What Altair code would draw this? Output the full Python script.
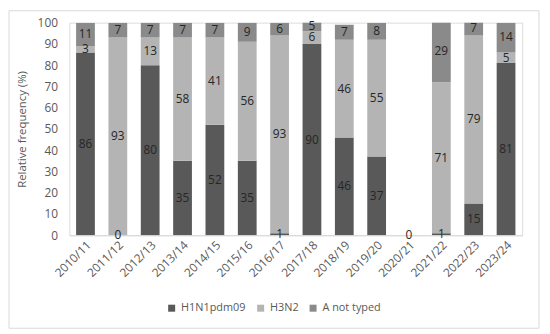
import altair as alt
import pandas as pd

seasons = ["2010/11", "2011/12", "2012/13", "2013/14", "2014/15", "2015/16", "2016/17",
           "2017/18", "2018/19", "2019/20", "2020/21", "2021/22", "2022/23", "2023/24"]
h1n1 = [86, 0, 80, 35, 52, 35, 1, 90, 46, 37, 0, 1, 15, 81]
h3n2 = [3, 93, 13, 58, 41, 56, 93, 6, 46, 55, 0, 71, 79, 5]
a_not_typed = [11, 7, 7, 7, 7, 9, 6, 5, 7, 8, 0, 29, 7, 14]
series_names = ["H1N1pdm09", "H3N2", "A not typed"]
series_colors = ["#595959", "#b4b4b4", "#8a8a8a"]
y_ticks = [0, 10, 20, 30, 40, 50, 60, 70, 80, 90, 100]

rows = []
for i, s in enumerate(seasons):
    for k, (name, vals) in enumerate(zip(series_names, [h1n1, h3n2, a_not_typed])):
        rows.append({"season": s, "series": name, "value": vals[i], "order": k,
                     "show": (vals[i] > 0) or (k == 0)})
df = pd.DataFrame(rows)

font = "Open Sans"

x_axis = alt.Axis(labelAngle=-45, ticks=False, domainColor="#d9d9d9",
                  labelColor="#595959", labelFontSize=12, labelFont=font,
                  labelPadding=4)
y_axis = alt.Axis(values=y_ticks, grid=False, domain=False,
                  ticks=False, labelColor="#595959", labelFontSize=12,
                  labelFont=font, labelPadding=12, labelOverlap=False,
                  titleFont=font, titleFontSize=11.5, titleFontWeight="normal",
                  titleColor="#595959", titlePadding=10)
x_scale = alt.Scale(paddingInner=0.42, paddingOuter=0.21)
y_scale = alt.Scale(domain=[0, 100], nice=False)
y_title = "Relative frequency (%)"

base = alt.Chart(df).transform_stack(
    stack="value", groupby=["season"], as_=["y0", "y1"],
    sort=[alt.SortField("order", order="ascending")]
)

bars = base.mark_bar(clip=True).encode(
    x=alt.X("season:N", sort=seasons, title=None, scale=x_scale, axis=x_axis),
    y=alt.Y("y0:Q", title=y_title, scale=y_scale, axis=y_axis),
    y2="y1:Q",
    color=alt.Color("series:N", sort=series_names,
                    scale=alt.Scale(domain=series_names, range=series_colors),
                    legend=alt.Legend(title=None, orient="none", direction="horizontal",
                                      legendX=98, legendY=283, symbolType="square",
                                      symbolSize=50, labelFontSize=11, labelFont=font,
                                      labelColor="#595959", columnPadding=9,
                                      labelOffset=4, symbolStrokeWidth=0)),
)

labels = base.transform_calculate(
    mid="(datum.y0 + datum.y1) / 2"
).transform_filter("datum.show").mark_text(
    fontSize=12, font=font, color="#262626", baseline="middle"
).encode(
    x=alt.X("season:N", sort=seasons, title=None, scale=x_scale, axis=x_axis),
    y=alt.Y("mid:Q", title=y_title, scale=y_scale, axis=y_axis),
    text=alt.Text("value:Q"),
)

frame = alt.Chart(pd.DataFrame({"a": [0]})).mark_rect(
    fillOpacity=0, stroke="#d9d9d9", strokeWidth=1
).encode(
    x=alt.value(-61), x2=alt.value(475), y=alt.value(-12), y2=alt.value(309)
)

chart = alt.layer(frame, bars, labels).properties(
    width=458, height=215,
    padding={"left": 62, "top": 13, "right": 20, "bottom": 96},
    autosize=alt.AutoSizeParams(type="none"),
).configure_view(stroke=None).configure(font=font)

chart.save("out.html", embed_options={"renderer": "svg", "actions": False})
